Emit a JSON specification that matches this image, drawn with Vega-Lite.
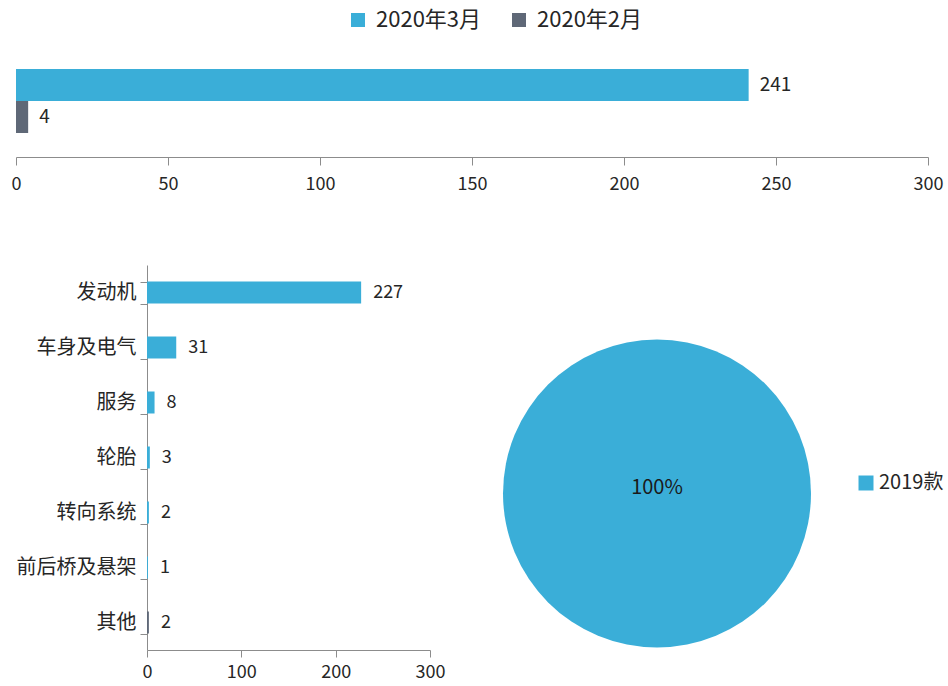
{
  "$schema": "https://vega.github.io/schema/vega-lite/v6.json",
  "padding": {"left": 11, "top": 9, "right": 0, "bottom": 0},
  "background": "white",
  "config": {
    "view": {"stroke": null},
    "font": "Noto Sans CJK SC",
    "axis": {
      "domainColor": "#8c8c8c",
      "tickColor": "#8c8c8c",
      "labelColor": "#262626",
      "labelFont": "Noto Sans CJK SC",
      "grid": false,
      "title": null
    },
    "legend": {"labelFont": "Noto Sans CJK SC", "labelColor": "#262626", "padding": 0}
  },
  "resolve": {"scale": {"color": "independent"}},
  "spacing": 62,
  "vconcat": [
    {
      "width": 912,
      "height": 112,
      "data": {"values": [
        {"period": "2020年3月", "count": 241},
        {"period": "2020年2月", "count": 4}
      ]},
      "encoding": {
        "y": {"field": "period", "type": "nominal", "sort": null, "axis": null,
              "scale": {"paddingInner": 0, "paddingOuter": 0.75}},
        "x": {"field": "count", "type": "quantitative",
              "scale": {"domain": [0, 300], "nice": false},
              "axis": {"values": [0, 50, 100, 150, 200, 250, 300], "labelFlush": false,
                       "tickSize": 8, "labelPadding": 10, "labelFontSize": 18}}
      },
      "layer": [
        {
          "mark": {"type": "bar"},
          "encoding": {
            "color": {"field": "period", "type": "nominal",
                      "scale": {"domain": ["2020年3月", "2020年2月"], "range": ["#3aaed8", "#5f6877"]},
                      "legend": {"orient": "none", "legendX": 331, "legendY": -36,
                                 "direction": "horizontal", "title": null,
                                 "symbolType": "square", "symbolSize": 196,
                                 "symbolStrokeWidth": 0, "labelFontSize": 22,
                                 "labelOffset": 7, "columnPadding": 26}}
          }
        },
        {
          "mark": {"type": "text", "align": "left", "dx": 11, "fontSize": 19, "color": "#262626"},
          "encoding": {"text": {"field": "count", "type": "quantitative"}}
        }
      ]
    },
    {
      "spacing": -20,
      "resolve": {"scale": {"color": "independent"}},
      "hconcat": [
        {
          "width": 20,
          "height": 20,
          "data": {"values": []},
          "mark": {"type": "point", "opacity": 0},
          "encoding": {}
        },
        {
          "spacing": 58,
          "resolve": {"scale": {"color": "independent"}},
          "hconcat": [
            {
              "width": 283,
              "height": 385,
              "data": {"values": [
                {"part": "发动机", "count": 227},
                {"part": "车身及电气", "count": 31},
                {"part": "服务", "count": 8},
                {"part": "轮胎", "count": 3},
                {"part": "转向系统", "count": 2},
                {"part": "前后桥及悬架", "count": 1},
                {"part": "其他", "count": 2}
              ]},
              "encoding": {
                "y": {"field": "part", "type": "nominal", "sort": null,
                      "scale": {"paddingInner": 0.6, "paddingOuter": 0.3},
                      "axis": {"tickBand": "extent", "tickSize": 7, "labelPadding": 4, "labelFontSize": 20}},
                "x": {"field": "count", "type": "quantitative",
                      "scale": {"domain": [0, 300], "nice": false},
                      "axis": {"values": [0, 100, 200, 300], "labelFlush": false, "tickSize": 7,
                               "labelPadding": 6, "labelFontSize": 18}}
              },
              "layer": [
                {
                  "mark": {"type": "bar"},
                  "encoding": {
                    "color": {"condition": {"test": "datum.part === '其他'", "value": "#5f6877"}, "value": "#3aaed8"}
                  }
                },
                {
                  "mark": {"type": "text", "align": "left", "dx": 12, "fontSize": 18, "color": "#262626"},
                  "encoding": {"text": {"field": "count", "type": "quantitative"}}
                }
              ]
            },
            {
              "width": 308,
              "height": 385,
              "data": {"values": [{"model": "2019款", "share": 1}]},
              "layer": [
                {
                  "mark": {"type": "arc", "yOffset": 36},
                  "encoding": {
                    "theta": {"field": "share", "type": "quantitative"},
                    "color": {"field": "model", "type": "nominal",
                              "scale": {"range": ["#3aaed8"]},
                              "legend": {"orient": "none", "legendX": 353, "legendY": 208,
                                         "title": null, "symbolType": "square", "symbolSize": 225,
                                         "symbolStrokeWidth": 0, "labelFontSize": 20, "labelOffset": 3}}
                  }
                },
                {
                  "mark": {"type": "text", "yOffset": 30, "fontSize": 20, "color": "#1a1a1a"},
                  "encoding": {"text": {"field": "share", "type": "quantitative", "format": ".0%"}}
                }
              ]
            }
          ]
        }
      ]
    }
  ]
}
